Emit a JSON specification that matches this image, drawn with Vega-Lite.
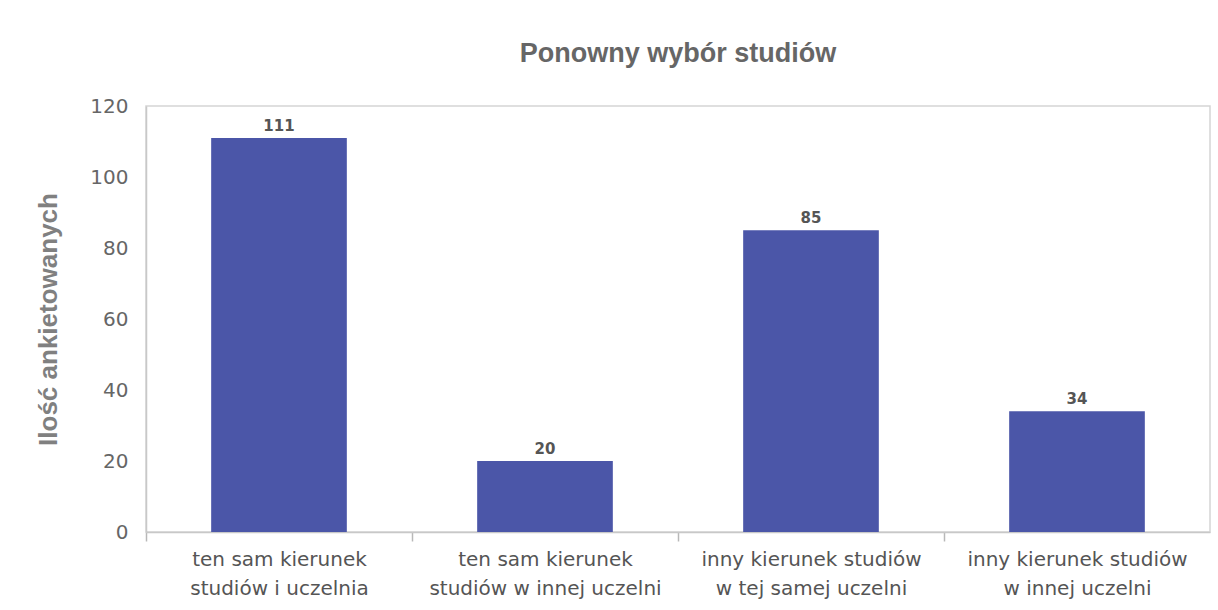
{
  "$schema": "https://vega.github.io/schema/vega-lite/v6.json",
  "autosize": "none",
  "width": 1064,
  "height": 426,
  "padding": {"left": 146, "top": 106, "right": 8, "bottom": 78},
  "background": "white",
  "title": {
    "text": "Ponowny wybór studiów",
    "anchor": "middle",
    "offset": 28,
    "font": "Liberation Sans",
    "fontSize": 27,
    "fontWeight": "bold",
    "color": "#666666"
  },
  "config": {
    "view": {"stroke": "#d5d5d5", "strokeWidth": 1.5}
  },
  "data": {
    "values": [
      {"kategoria": "ten sam kierunek studiów i uczelnia", "liczba": 111},
      {"kategoria": "ten sam kierunek studiów w innej uczelni", "liczba": 20},
      {"kategoria": "inny kierunek studiów w tej samej uczelni", "liczba": 85},
      {"kategoria": "inny kierunek studiów w innej uczelni", "liczba": 34}
    ]
  },
  "encoding": {
    "x": {
      "field": "kategoria",
      "type": "nominal",
      "sort": null,
      "scale": {"paddingInner": 0.49, "paddingOuter": 0.245},
      "axis": {
        "title": null,
        "labelAngle": 0,
        "labelExpr": "indexof(datum.value, 'ten sam') == 0 ? [substring(datum.value, 0, 16), substring(datum.value, 17)] : [substring(datum.value, 0, 21), substring(datum.value, 22)]",
        "labelFont": "DejaVu Sans",
        "labelFontSize": 20,
        "labelColor": "#555555",
        "labelLineHeight": 29,
        "labelLimit": 0,
        "labelPadding": 8,
        "labelOffset": 65,
        "bandPosition": 0,
        "tickOffset": -65,
        "ticks": true,
        "tickSize": 9,
        "tickColor": "#b8b8b8",
        "tickWidth": 1.5,
        "domainColor": "#c8c8c8",
        "domainWidth": 1.5
      }
    },
    "y": {
      "field": "liczba",
      "type": "quantitative",
      "scale": {"domain": [0, 120], "nice": false},
      "axis": {
        "values": [0, 20, 40, 60, 80, 100, 120],
        "title": "Ilość ankietowanych",
        "titleFont": "Liberation Sans",
        "titleFontWeight": "bold",
        "titleFontSize": 26,
        "titleColor": "#808080",
        "titlePadding": 28,
        "labelFont": "DejaVu Sans",
        "labelFontSize": 20,
        "labelColor": "#666666",
        "labelPadding": 18,
        "ticks": false,
        "grid": false,
        "domainColor": "#c8c8c8",
        "domainWidth": 1.5
      }
    }
  },
  "layer": [
    {"mark": {"type": "bar", "color": "#4B56A8"}},
    {
      "mark": {
        "type": "text",
        "baseline": "bottom",
        "dy": -4,
        "font": "DejaVu Sans",
        "fontSize": 15,
        "fontWeight": "bold",
        "color": "#555555"
      },
      "encoding": {"text": {"field": "liczba", "type": "quantitative"}}
    }
  ]
}
